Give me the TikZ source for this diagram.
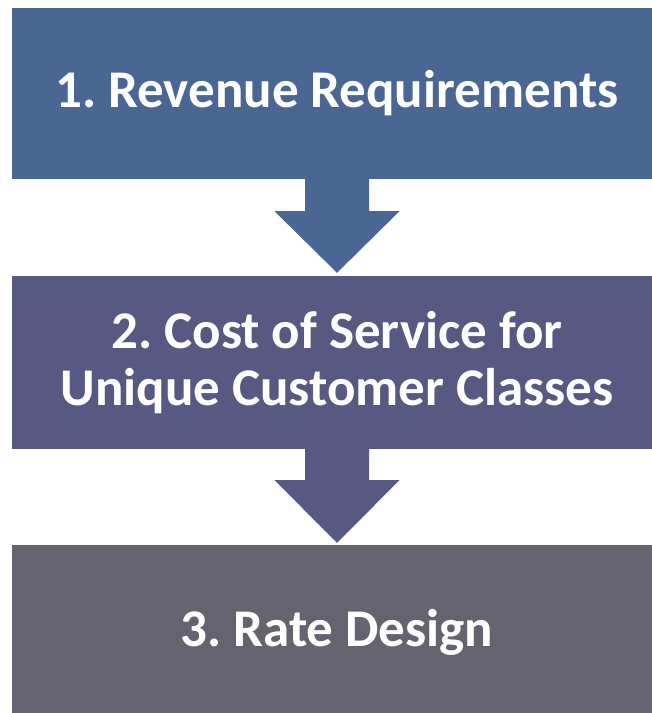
\documentclass[tikz,border=0pt]{standalone}
\usepackage{fontspec}
\setmainfont{Carlito}
\usetikzlibrary{calc}
\definecolor{stepone}{HTML}{4A6794}
\definecolor{steptwo}{HTML}{575982}
\definecolor{stepthree}{HTML}{666371}
\frenchspacing
\begin{document}
\begin{tikzpicture}[x=1pt,y=-1pt,
  stagebox/.style={rectangle, inner sep=0pt, minimum width=650pt,
    text=white, align=center, font=\bfseries\fontsize{53}{57}\selectfont}]
\useasboundingbox (0,0) rectangle (652,713);
\clip (0,0) rectangle (652,713);
% the three stages
\node[stagebox, fill=stepone,   minimum height=171pt] (s1) at (337,93.5)  {1. Revenue Requirements};
\node[stagebox, fill=steptwo,   minimum height=173pt] (s2) at (337,362.5) {2. Cost of Service for\\Unique Customer Classes};
\node[stagebox, fill=stepthree, minimum height=175pt] (s3) at (337,632.5) {3. Rate Design};
% block arrows between stages
\fill[stepone] ($(s1.south)+(-32,-1)$) -- ($(s1.south)+(-32,32)$) -- ($(s1.south)+(-62.5,32)$)
  -- ($(s2.north)+(0,-3)$) -- ($(s1.south)+(62.5,32)$) -- ($(s1.south)+(32,32)$)
  -- ($(s1.south)+(32,-1)$) -- cycle;
\fill[steptwo] ($(s2.south)+(-32,-1)$) -- ($(s2.south)+(-32,31)$) -- ($(s2.south)+(-62.5,31)$)
  -- ($(s3.north)+(0,-2)$) -- ($(s2.south)+(62.5,31)$) -- ($(s2.south)+(32,31)$)
  -- ($(s2.south)+(32,-1)$) -- cycle;
\end{tikzpicture}
\end{document}
